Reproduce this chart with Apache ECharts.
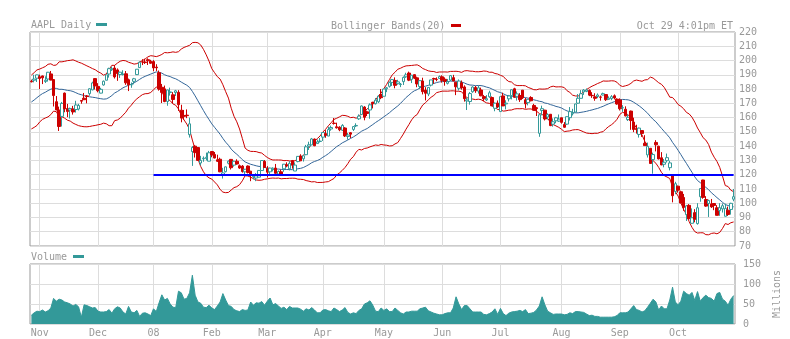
<!DOCTYPE html>
<html>
<head>
<meta charset="utf-8">
<script src="https://cdn.jsdelivr.net/npm/echarts@6/dist/echarts.min.js"></script>
<style>
  html, body { margin: 0; padding: 0; background: #fff; }
  #chart { width: 790px; height: 339px; }
</style>
</head>
<body>
<div id="chart"></div>
<script>
// Trading days per month (Oct 29 2007 .. Oct 29 2008)
const tradingDays = [
  ['2007-10', [29,30,31]],
  ['2007-11', [1,2,5,6,7,8,9,12,13,14,15,16,19,20,21,23,26,27,28,29,30]],
  ['2007-12', [3,4,5,6,7,10,11,12,13,14,17,18,19,20,21,24,26,27,28,31]],
  ['2008-01', [2,3,4,7,8,9,10,11,14,15,16,17,18,22,23,24,25,28,29,30,31]],
  ['2008-02', [1,4,5,6,7,8,11,12,13,14,15,19,20,21,22,25,26,27,28,29]],
  ['2008-03', [3,4,5,6,7,10,11,12,13,14,17,18,19,20,24,25,26,27,28,31]],
  ['2008-04', [1,2,3,4,7,8,9,10,11,14,15,16,17,18,21,22,23,24,25,28,29,30]],
  ['2008-05', [1,2,5,6,7,8,9,12,13,14,15,16,19,20,21,22,23,27,28,29,30]],
  ['2008-06', [2,3,4,5,6,9,10,11,12,13,16,17,18,19,20,23,24,25,26,27,30]],
  ['2008-07', [1,2,3,7,8,9,10,11,14,15,16,17,18,21,22,23,24,25,28,29,30,31]],
  ['2008-08', [1,4,5,6,7,8,11,12,13,14,15,18,19,20,21,22,25,26,27,28,29]],
  ['2008-09', [2,3,4,5,8,9,10,11,12,15,16,17,18,19,22,23,24,25,26,29,30]],
  ['2008-10', [1,2,3,6,7,8,9,10,13,14,15,16,17,20,21,22,23,24,27,28,29]]
];

// Month tick labels along the bottom axis
const tickMonths = ['2007-11','2007-12','2008-01','2008-02','2008-03','2008-04','2008-05','2008-06','2008-07','2008-08','2008-09','2008-10'];
const tickLabels = ['Nov','Dec','08','Feb','Mar','Apr','May','Jun','Jul','Aug','Sep','Oct'];

// Closing prices of the 19 sessions before the first date (band warm-up)
const warmupClose = [158.45,157.92,156.24,161.45,167.91,167.86,166.79,162.23,167.25,166.98,169.58,172.75,173.50,170.42,174.36,186.16,185.93,182.78,184.70];

const open = [
  185.45,186.18,187.63,
  188.60,189.21,185.29,187.05,190.61,186.67,171.15,165.28,160.85,177.16,166.39,165.30,166.10,165.67,166.00,172.00,173.59,175.22,176.82,179.43,187.34,
  181.86,177.15,182.89,186.19,190.54,193.59,194.75,193.44,190.19,190.37,190.72,186.52,182.98,185.43,190.12,195.03,199.01,198.95,200.59,199.50,
  199.27,195.41,191.45,181.25,180.14,171.30,177.58,176.00,177.52,177.72,165.23,161.51,161.71,148.06,136.19,139.99,138.99,128.16,131.15,131.37,129.45,
  136.24,134.21,130.43,130.83,119.97,122.08,128.01,130.70,126.68,129.40,126.27,125.99,122.00,126.05,122.48,118.59,117.64,118.23,122.90,129.29,
  124.44,121.99,123.58,124.61,120.41,121.98,124.10,127.04,124.10,129.88,122.55,129.18,133.12,131.12,134.01,139.96,140.87,144.95,141.80,143.27,
  146.30,148.78,147.06,152.02,156.13,153.55,153.31,151.13,152.72,146.77,149.40,151.72,154.17,159.12,162.21,167.40,164.05,165.34,170.70,169.75,171.11,176.19,
  174.96,180.19,181.92,184.66,186.05,183.77,183.16,185.21,188.61,191.23,186.81,190.11,187.86,181.82,185.67,179.26,176.50,182.75,187.41,186.76,187.45,
  188.60,186.86,184.02,186.34,188.00,184.79,180.51,184.34,181.49,171.64,171.30,178.10,181.12,178.55,179.35,174.74,172.37,174.61,174.07,166.51,170.19,
  164.23,175.20,169.59,173.16,175.40,180.20,174.92,175.47,179.24,172.48,170.50,174.10,168.52,166.90,149.00,164.99,165.20,160.40,162.34,155.41,157.78,157.54,
  159.90,155.20,155.42,159.97,162.71,163.86,170.07,173.52,177.98,178.33,179.04,175.57,174.54,174.77,174.47,175.82,176.15,172.76,173.31,175.28,172.96,
  172.40,166.84,165.86,158.59,164.57,156.86,152.32,148.18,150.91,142.03,133.86,138.49,130.57,142.60,139.94,131.85,127.27,129.80,124.91,119.62,108.25,
  111.92,108.01,104.00,91.96,98.48,85.91,93.35,85.70,104.55,116.26,102.61,99.78,99.52,99.78,96.77,94.79,96.00,90.83,95.07,95.62,102.82
];
const high = [
  186.59,190.10,190.12,
  190.10,189.44,188.96,192.00,192.68,186.90,175.12,167.70,170.98,177.57,169.59,167.02,168.20,171.79,169.65,172.05,177.27,175.79,180.60,185.17,187.70,
  184.14,180.90,186.00,190.10,194.99,195.66,196.83,194.48,192.12,193.20,192.65,187.33,184.64,187.83,193.91,199.33,200.96,201.21,201.56,200.50,
  200.26,197.39,193.00,183.60,182.46,179.50,181.00,177.85,179.42,179.22,169.01,165.36,165.75,159.98,140.00,140.70,139.09,133.20,132.79,135.45,136.65,
  136.59,135.90,134.00,131.92,124.78,125.70,129.98,131.00,129.78,130.80,127.08,126.75,123.41,126.47,122.51,120.17,121.09,123.05,129.97,130.21,
  125.98,124.88,125.14,127.50,122.98,123.46,127.48,128.68,129.50,130.30,128.59,133.00,134.29,133.29,140.85,143.10,145.74,145.31,144.65,145.71,
  149.66,151.20,153.63,154.37,159.69,156.45,153.89,155.42,153.30,149.25,149.72,154.10,156.00,162.26,168.50,168.00,164.84,169.98,171.10,173.75,175.66,180.00,
  180.00,181.49,185.31,187.12,188.20,186.50,184.25,188.87,191.45,192.24,189.90,190.30,188.69,186.16,187.95,181.33,181.33,186.43,187.95,188.20,189.54,
  189.65,188.20,187.09,189.84,189.95,184.94,186.78,186.00,182.60,174.16,177.90,181.99,182.20,182.34,181.00,175.88,175.78,178.83,174.84,170.57,172.00,
  174.72,177.45,172.17,175.88,179.70,180.91,178.35,177.11,179.30,173.74,172.93,174.98,169.65,167.50,162.76,168.37,165.46,163.00,162.47,159.45,160.49,162.20,
  159.99,156.85,160.80,167.40,166.15,169.65,176.50,179.29,180.00,180.45,179.75,177.81,177.07,176.94,175.45,177.50,176.23,174.88,175.76,176.25,173.50,
  173.50,168.68,167.91,162.40,164.89,159.96,154.99,152.99,150.91,147.69,142.50,138.51,135.43,144.20,140.25,135.80,130.95,134.79,129.80,119.68,115.00,
  112.36,108.79,106.50,98.78,99.38,96.33,95.80,100.00,110.53,116.40,104.95,102.50,102.97,99.78,98.65,100.00,99.80,99.69,97.58,100.29,109.98
];
const low = [
  184.70,184.70,184.95,
  180.00,183.49,184.24,185.27,186.13,167.77,165.21,150.63,153.76,163.74,160.30,159.33,162.10,163.53,165.00,169.75,172.35,170.01,175.35,179.15,179.70,
  177.70,176.99,182.41,186.12,188.04,192.69,187.39,185.76,187.82,189.54,182.98,178.60,180.90,183.33,189.89,194.79,196.82,197.59,196.88,197.75,
  192.55,192.69,178.89,170.23,170.80,168.30,175.41,170.00,175.17,164.66,156.70,158.42,159.61,146.00,126.14,132.01,129.61,126.45,129.05,130.00,129.40,
  132.18,131.42,128.90,121.77,117.27,121.60,127.20,123.62,125.63,127.01,124.06,121.44,119.14,120.86,115.44,116.66,115.44,118.09,122.67,124.80,
  118.00,120.40,122.25,120.81,119.05,119.37,122.00,125.17,123.00,124.20,122.55,128.67,129.67,129.18,133.64,137.33,140.64,139.99,141.60,142.52,
  143.61,145.85,147.00,150.80,155.11,152.32,150.46,150.60,146.40,144.54,145.72,150.62,153.35,158.38,161.76,158.09,161.08,159.19,166.42,169.13,170.25,172.92,
  174.86,177.86,181.05,182.18,180.54,183.07,181.37,182.85,187.86,185.57,184.20,187.00,181.30,180.12,176.25,172.00,175.05,181.84,183.72,185.50,187.38,
  184.53,182.34,183.23,185.70,185.55,175.75,179.02,179.59,171.20,165.31,169.07,177.41,177.35,176.80,175.00,171.56,171.63,173.88,168.01,164.44,166.62,
  164.00,168.18,165.75,171.30,172.74,174.14,171.93,171.00,173.08,166.39,168.60,171.39,165.00,161.12,146.53,161.56,158.00,158.65,154.02,153.65,156.08,156.98,
  155.75,152.91,154.82,158.00,161.50,163.75,169.67,173.51,175.90,177.84,175.05,173.82,171.81,173.61,171.89,175.57,171.66,172.61,172.19,172.75,169.04,
  165.00,164.00,160.81,157.65,151.46,149.79,148.80,146.00,146.50,140.36,132.00,127.83,120.68,136.31,130.66,126.66,125.15,128.52,123.00,100.59,106.30,
  107.39,100.00,94.65,87.54,88.69,85.68,86.60,85.00,101.02,103.14,97.46,90.35,96.66,95.10,91.48,91.16,93.47,90.82,91.08,92.01,101.35
];
const close = [
  185.09,187.00,189.95,
  187.44,187.87,186.18,191.79,186.30,175.47,165.37,153.76,169.96,166.11,164.30,166.39,163.95,168.85,168.46,171.54,172.54,174.81,180.22,184.29,182.22,
  178.86,179.81,185.50,189.95,194.30,194.21,188.54,190.86,191.83,190.39,184.40,182.98,183.12,187.21,193.91,198.80,198.95,198.57,199.83,198.08,
  194.84,194.93,180.05,177.64,171.25,179.40,178.02,172.69,178.78,169.04,159.64,160.89,161.36,155.64,139.07,135.60,130.01,130.01,131.54,132.18,135.36,
  133.75,131.65,129.36,122.00,121.24,125.48,129.45,124.86,129.40,127.46,124.63,122.18,123.82,121.54,119.46,119.74,119.15,122.96,129.91,125.02,
  121.73,124.62,124.49,120.93,122.25,119.69,127.35,126.03,127.94,126.61,126.73,132.82,129.67,133.27,139.53,140.98,145.06,140.25,143.01,143.50,
  149.53,147.49,151.61,153.08,155.89,152.84,151.44,154.55,147.14,147.78,148.38,153.70,154.49,161.04,168.16,160.20,162.89,168.94,169.73,172.24,175.05,173.95,
  180.00,180.94,184.73,186.66,182.59,185.06,183.45,188.16,189.96,186.26,189.73,187.62,183.60,185.90,178.19,177.05,181.17,186.43,187.01,186.69,188.75,
  186.10,185.37,185.19,189.43,185.64,181.61,185.64,180.81,173.26,172.37,176.84,181.43,178.75,180.90,175.27,173.16,173.25,177.39,168.26,170.09,167.44,
  174.68,168.18,170.12,175.16,179.55,174.25,176.63,172.58,173.88,169.64,172.81,171.81,165.15,166.29,162.02,166.26,159.03,162.12,154.40,157.08,159.88,158.95,
  156.66,153.23,160.64,164.19,163.57,169.55,173.56,176.73,179.30,179.32,175.74,175.39,173.53,175.84,174.29,176.79,172.55,173.64,174.67,173.74,169.53,
  166.19,166.96,161.22,160.18,157.92,151.68,151.61,152.65,148.94,140.36,139.88,127.83,134.09,140.91,131.05,126.84,128.71,131.93,128.24,105.26,113.66,
  109.12,100.10,97.07,98.14,89.16,89.79,88.74,96.80,110.26,104.08,97.95,101.89,97.40,98.44,91.49,96.87,98.23,96.38,92.09,99.91,104.55
];
// Daily volume, millions of shares
const volume = [
  22,28,32,
  31,35,30,33,40,64,57,62,60,55,53,50,45,49,43,17,48,46,43,40,41,
  32,30,30,31,36,27,38,43,40,30,25,44,30,28,34,19,27,28,25,21,
  38,31,53,73,60,64,50,42,41,82,78,62,64,78,122,72,55,52,42,41,47,
  40,36,45,55,76,60,46,44,36,33,31,36,34,35,55,47,53,52,56,47,
  57,65,48,51,45,39,42,36,44,40,40,40,37,32,38,35,41,35,28,28,
  35,36,33,31,40,36,31,35,41,29,25,28,26,34,38,50,53,58,47,32,31,40,
  34,38,31,31,40,34,28,25,30,30,32,32,32,38,40,42,33,30,27,25,23,
  23,26,28,28,40,68,50,36,46,46,38,30,30,30,30,24,23,26,30,38,24,
  39,26,21,27,30,31,32,34,31,36,26,27,29,35,45,68,48,32,28,24,25,25,
  25,23,24,28,26,31,31,30,29,25,21,22,19,19,17,17,17,17,17,18,21,
  28,28,28,30,38,46,36,34,30,33,42,52,62,55,35,45,38,38,60,92,55,
  48,57,82,76,72,79,59,81,57,66,72,66,64,57,76,79,62,57,47,62,71
];
// Support level drawn across the price panel
const supportLevel = 120;
const supportFrom = '2008-01-02';

// ---- derived structures ----
const dates = [];
tradingDays.forEach(([ym, days]) => days.forEach(d => dates.push(ym + '-' + String(d).padStart(2, '0'))));

const monthLabelOf = {};
tickMonths.forEach((m, i) => { monthLabelOf[m] = tickLabels[i]; });
const isMonthStart = (idx) => {
  if (idx === 0) return false;
  const m = dates[idx].slice(0, 7);
  return m !== dates[idx - 1].slice(0, 7) && monthLabelOf[m] !== undefined;
};

const candles = dates.map((d, i) => [open[i], close[i], low[i], high[i]]);

// 20-day Bollinger bands (SMA ± 2 standard deviations)
const allClose = warmupClose.concat(close);
const bbMid = [], bbUp = [], bbLo = [];
for (let i = 0; i < close.length; i++) {
  const win = allClose.slice(i, i + 20);
  const m = win.reduce((a, b) => a + b, 0) / win.length;
  const sd = Math.sqrt(win.reduce((a, b) => a + (b - m) * (b - m), 0) / win.length);
  bbMid.push(+m.toFixed(2));
  bbUp.push(+(m + 2 * sd).toFixed(2));
  bbLo.push(+(m - 2 * sd).toFixed(2));
}

const FONT = '"DejaVu Sans Mono", monospace';
const GREY = '#999999';
const TEAL = '#339999';
const RED = '#cc0000';
const GRIDC = '#dddddd';

const chart = echarts.init(document.getElementById('chart'), null, { renderer: 'canvas' });

chart.setOption({
  animation: false,
  backgroundColor: '#ffffff',
  textStyle: { fontFamily: FONT },
  grid: [
    { left: 30, right: 55, top: 32, height: 214, show: true, borderColor: GREY, borderWidth: 1, backgroundColor: 'transparent' },
    { left: 30, right: 55, top: 264, height: 60, show: true, borderColor: GREY, borderWidth: 1, backgroundColor: 'transparent' }
  ],
  xAxis: [
    {
      type: 'category', gridIndex: 0, data: dates, boundaryGap: true,
      axisLine: { show: false }, axisTick: { show: false }, axisLabel: { show: false },
      splitLine: { show: true, interval: isMonthStart, alignWithLabel: true, lineStyle: { color: GRIDC, width: 1 } }
    },
    {
      type: 'category', gridIndex: 1, data: dates, boundaryGap: true,
      axisLine: { show: false }, axisTick: { show: false },
      axisLabel: {
        show: true, interval: isMonthStart, margin: 4,
        color: GREY, fontFamily: FONT, fontSize: 10,
        formatter: (v) => monthLabelOf[v.slice(0, 7)] || ''
      },
      splitLine: { show: true, interval: isMonthStart, alignWithLabel: true, lineStyle: { color: GRIDC, width: 1 } }
    }
  ],
  yAxis: [
    {
      type: 'value', gridIndex: 0, position: 'right', min: 70, max: 220, interval: 10,
      axisLine: { show: false }, axisTick: { show: false },
      axisLabel: { color: GREY, fontFamily: FONT, fontSize: 10, margin: 4 },
      splitLine: { show: true, lineStyle: { color: GRIDC, width: 1 } }
    },
    {
      type: 'value', gridIndex: 1, position: 'right', min: 0, max: 150, interval: 50,
      axisLine: { show: false }, axisTick: { show: false },
      axisLabel: { color: GREY, fontFamily: FONT, fontSize: 10, margin: 8 },
      splitLine: { show: true, lineStyle: { color: GRIDC, width: 1 } },
      name: 'Millions', nameLocation: 'middle', nameRotate: 90, nameGap: 28,
      nameTextStyle: { color: GREY, fontFamily: FONT, fontSize: 10 }
    }
  ],
  series: [
    {
      name: 'Upper', type: 'line', xAxisIndex: 0, yAxisIndex: 0, data: bbUp,
      symbol: 'none', lineStyle: { color: RED, width: 1 }, z: 2
    },
    {
      name: 'Lower', type: 'line', xAxisIndex: 0, yAxisIndex: 0, data: bbLo,
      symbol: 'none', lineStyle: { color: RED, width: 1 }, z: 2
    },
    {
      name: 'Middle', type: 'line', xAxisIndex: 0, yAxisIndex: 0, data: bbMid,
      symbol: 'none', lineStyle: { color: '#336699', width: 1 }, z: 2
    },
    {
      name: 'AAPL', type: 'candlestick', xAxisIndex: 0, yAxisIndex: 0, data: candles,
      barWidth: 3, z: 3,
      itemStyle: { color: '#ffffff', color0: RED, borderColor: TEAL, borderColor0: RED, borderWidth: 1 },
      markLine: {
        silent: true, symbol: 'none', animation: false,
        label: { show: false },
        lineStyle: { color: '#0000ff', width: 2, type: 'solid' },
        data: [[{ coord: [supportFrom, supportLevel] }, { coord: [dates[dates.length - 1], supportLevel] }]]
      }
    },
    {
      name: 'Volume', type: 'line', xAxisIndex: 1, yAxisIndex: 1, data: volume,
      symbol: 'none', lineStyle: { color: TEAL, width: 1 },
      areaStyle: { color: TEAL, opacity: 1 }
    }
  ],
  graphic: [
    { type: 'text', style: { x: 31, y: 25, text: 'AAPL Daily', font: '10px ' + FONT, fill: GREY, verticalAlign: 'middle' } },
    { type: 'rect', shape: { x: 96, y: 23, width: 11, height: 3 }, style: { fill: TEAL } },
    { type: 'text', style: { x: 331, y: 26, text: 'Bollinger Bands(20)', font: '10px ' + FONT, fill: GREY, verticalAlign: 'middle' } },
    { type: 'rect', shape: { x: 451, y: 24, width: 10, height: 3 }, style: { fill: RED } },
    { type: 'text', style: { x: 733, y: 26, text: 'Oct 29 4:01pm ET', font: '10px ' + FONT, fill: GREY, align: 'right', verticalAlign: 'middle' } },
    { type: 'text', style: { x: 31, y: 257, text: 'Volume', font: '10px ' + FONT, fill: GREY, verticalAlign: 'middle' } },
    { type: 'rect', shape: { x: 73, y: 255, width: 11, height: 3 }, style: { fill: TEAL } }
  ]
});
</script>
</body>
</html>
